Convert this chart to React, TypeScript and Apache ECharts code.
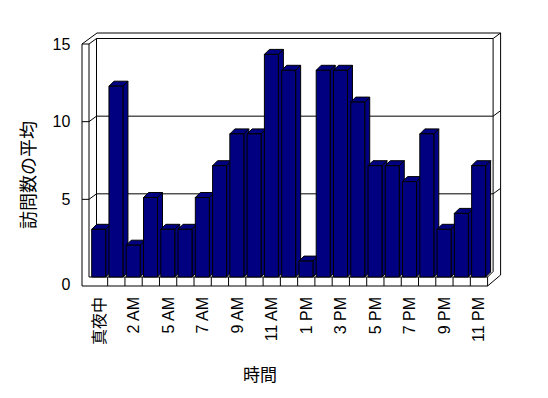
import React, { useEffect, useRef } from "react";
import * as echarts from "echarts";

const categories = [
  "真夜中", "1 AM", "2 AM", "3 AM", "5 AM", "6 AM", "7 AM", "8 AM", "9 AM", "10 AM", "11 AM", "正午",
  "1 PM", "2 PM", "3 PM", "4 PM", "5 PM", "6 PM", "7 PM", "8 PM", "9 PM", "10 PM", "11 PM",
];
const avgVisits = [3, 12, 2, 5, 3, 3, 5, 7, 9, 9, 14, 13, 1, 13, 13, 11, 7, 7, 6, 9, 3, 4, 7];
const yMin = 0;
const yMax = 15;
const yStep = 5;
const gridValues = [5, 10, 15];
const yTitle = "訪問数の平均";
const xTitle = "時間";

const FONT = "'Liberation Sans', 'Noto Sans CJK JP', sans-serif";
const BAR_FILL = "#000080";

export default function App() {
  const ref = useRef<HTMLDivElement>(null);
  useEffect(() => {
    if (!ref.current) return;
    const chart = echarts.init(ref.current, null, { renderer: "svg" });
    const ln = (points: number[][]) => ({
      type: "polyline",
      shape: { points },
      style: { stroke: "#000", lineWidth: 1, fill: null },
    });
    const renderFrame = (params: any, api: any) => {
      const bw = api.size([1, 0])[0];
      const L = api.coord([0, 0])[0] - bw / 2;
      const R = api.coord([categories.length - 1, 0])[0] + bw / 2;
      const y0 = api.coord([0, 0])[1];
      const yTop = api.coord([0, yMax])[1];
      const dx = 7.5, dy = -5.5;
      const fo = L - 8.4, fi = L - 1.4;
      const backR = R + 5.5, outR = backR + 7.5;
      const floorB = y0 + 9;
      const children: any[] = [];
      gridValues.forEach((v) => {
        const y = api.coord([0, v])[1];
        children.push(ln([[fo, y], [fi, y], [fi + dx, y + dy], [backR, y + dy], [outR, y + 2 * dy]]));
      });
      children.push(ln([[fo, yTop], [fo + 2 * dx, yTop + 2 * dy], [outR, yTop + 2 * dy]]));
      children.push(ln([[fo, yTop], [fo, floorB], [R, floorB], [R, y0], [fi, y0], [fi, yTop]]));
      children.push(ln([[fi + dx, yTop + dy], [fi + dx, y0 + dy]]));
      children.push(ln([[backR, yTop + dy], [backR, y0 + dy], [R, y0]]));
      children.push(ln([[outR, yTop + 2 * dy], [outR, floorB + 2 * dy], [R, floorB]]));
      for (let i = 1; i < categories.length; i++) {
        const x = L + i * bw;
        children.push(ln([[x, y0], [x, floorB]]));
      }
      return { type: "group", children };
    };
    const renderBar = (params: any, api: any) => {
      const i = api.value(0);
      const v = api.value(1);
      const bw = api.size([1, 0])[0];
      const top = api.coord([i, v]);
      const base = api.coord([i, 0]);
      const w = bw * 0.81;
      const l = top[0] - bw * 0.425;
      const r = l + w;
      const t = top[1];
      const b = base[1];
      const d = 5;
      const st = { fill: BAR_FILL, stroke: "#000", lineWidth: 1 };
      return {
        type: "group",
        children: [
          { type: "polygon", shape: { points: [[r, t], [r + d, t - d], [r + d, b - d], [r, b]] }, style: st },
          { type: "polygon", shape: { points: [[l, t], [l + d, t - d], [r + d, t - d], [r, t]] }, style: st },
          { type: "rect", shape: { x: l, y: t, width: w, height: b - t }, style: st },
        ],
      };
    };
    const labelStyle = { fontFamily: FONT, fontSize: 16, color: "#000" };
    chart.setOption({
      animation: false,
      backgroundColor: "#fff",
      grid: [
        { left: 90.4, top: 38.5, width: 397.2, height: 238.5 },
        { left: 90.4, top: 44, width: 397.2, height: 233 },
      ],
      xAxis: [
        {
          gridIndex: 0,
          type: "category",
          data: categories,
          axisLine: { show: false },
          axisTick: { show: false },
          axisLabel: { ...labelStyle, interval: 1, rotate: 90, margin: 20 },
        },
        { gridIndex: 1, type: "category", data: categories, show: false },
      ],
      yAxis: [
        { gridIndex: 0, type: "value", min: yMin, max: yMax, show: false },
        {
          gridIndex: 1,
          type: "value",
          min: yMin,
          max: yMax,
          interval: yStep,
          axisLine: { show: false },
          axisTick: { show: false },
          splitLine: { show: false },
          axisLabel: {
            ...labelStyle,
            margin: 20,
            formatter: (v: number) => (v === 0 ? "{z|0}" : String(v)),
            rich: { z: { ...labelStyle, padding: [14, 0, 0, 0] } },
          },
        },
      ],
      series: [
        {
          type: "custom",
          xAxisIndex: 1,
          yAxisIndex: 1,
          clip: false,
          z: 1,
          silent: true,
          renderItem: renderFrame,
          data: [[0, 0]],
        },
        {
          type: "custom",
          xAxisIndex: 0,
          yAxisIndex: 0,
          clip: false,
          z: 2,
          renderItem: renderBar,
          data: avgVisits.map((v, i) => [i, v]),
        },
      ],
      graphic: [
        {
          type: "text",
          x: 29,
          y: 175,
          rotation: Math.PI / 2,
          style: { text: yTitle, fontFamily: FONT, fontSize: 18, fill: "#000", textAlign: "center", textVerticalAlign: "middle" },
        },
        {
          type: "text",
          x: 260,
          y: 375,
          style: { text: xTitle, fontFamily: FONT, fontSize: 17, fill: "#000", textAlign: "center", textVerticalAlign: "middle" },
        },
      ],
    });
    return () => chart.dispose();
  }, []);
  return <div ref={ref} style={{ position: "absolute", left: 0, top: 0, width: 548, height: 398 }} />;
}
